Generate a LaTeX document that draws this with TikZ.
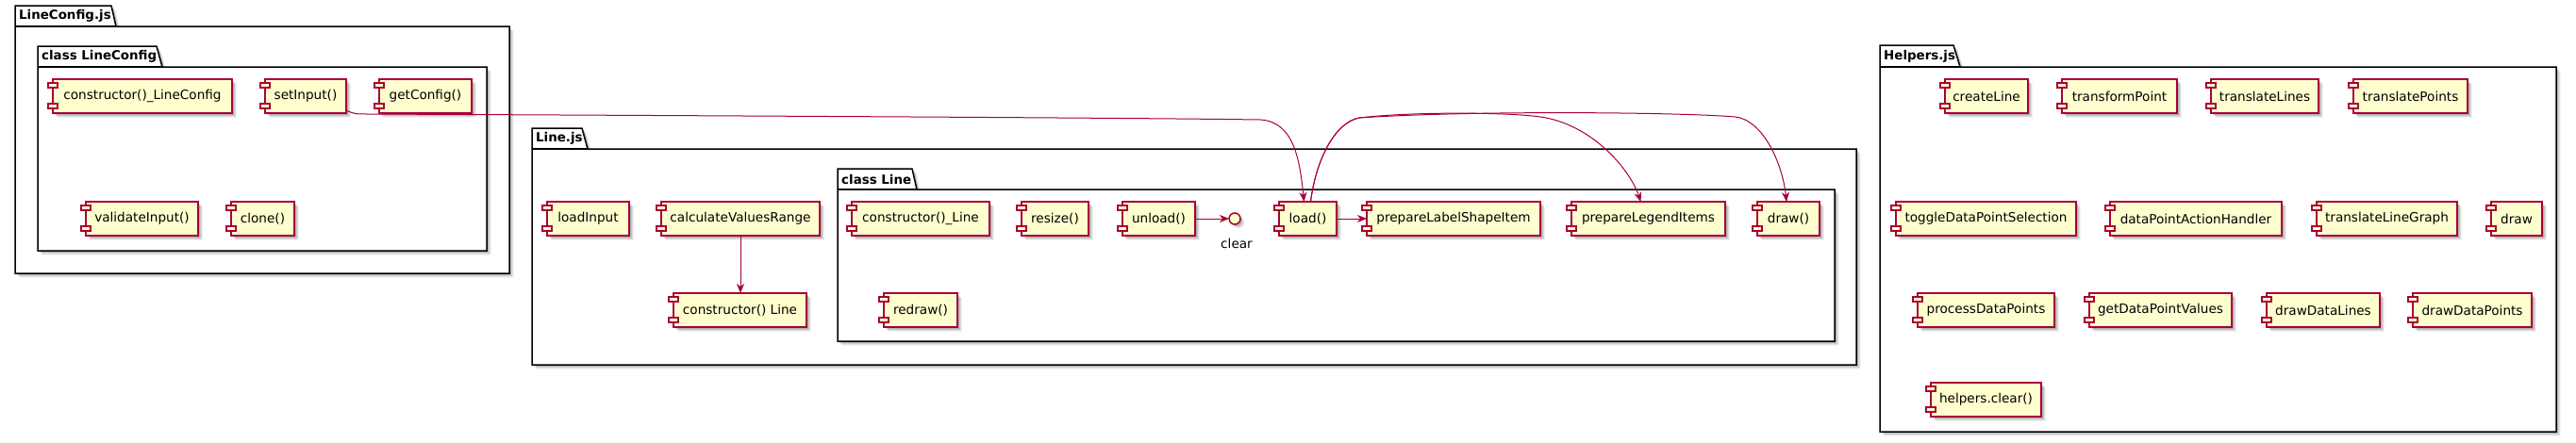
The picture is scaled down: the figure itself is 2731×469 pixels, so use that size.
\documentclass[tikz,border=0pt]{standalone}
\usepackage{fontspec}
\setmainfont{DejaVu Sans}
\usetikzlibrary{arrows.meta,shadows}
\definecolor{pcrim}{HTML}{A80036}
\definecolor{pfill}{HTML}{FEFECE}
\tikzset{
  blurshadow/.style={
    general shadow={fill=black,opacity=.10,shadow xshift=1.5pt,shadow yshift=-1.5pt},
    general shadow={fill=black,opacity=.10,shadow xshift=2.5pt,shadow yshift=-2.5pt},
    general shadow={fill=black,opacity=.08,shadow xshift=3.5pt,shadow yshift=-3.5pt},
    general shadow={fill=black,opacity=.06,shadow xshift=4.5pt,shadow yshift=-4.5pt}},
  compbox/.style={draw=pcrim, fill=pfill, line width=1.5pt, minimum height=36pt,
    inner sep=0pt, outer sep=0pt, anchor=north west,
    font=\fontsize{13.6pt}{16pt}\selectfont, blurshadow},
  compicon/.style={draw=pcrim, fill=pfill, line width=1.5pt},
  pkgframe/.style={draw=black, fill=white, line width=1.5pt, line join=miter, blurshadow},
  pkgline/.style={draw=black, line width=1.5pt},
  pkglabel/.style={anchor=west, inner sep=0pt, font=\bfseries\fontsize{13.4pt}{16pt}\selectfont},
  iface/.style={circle, draw=pcrim, fill=pfill, line width=1.5pt, minimum size=12pt,
    inner sep=0pt, outer sep=0pt, blurshadow},
  plainlabel/.style={inner sep=0pt, font=\fontsize{13.6pt}{16pt}\selectfont},
  arr/.style={draw=pcrim, line width=1pt,
    -{Stealth[length=10pt,width=8pt,inset=3pt]}},
}
% name, x1, x2, ytop, text
\newcommand\pcomp[5]{%
  \node[compbox, minimum width={(#3-#2)*1pt}] (#1) at (#2,#4) {#5};
  \draw[compicon] ([xshift=-5pt,yshift=-4pt]#1.north west) rectangle ++(10pt,-5pt);
  \draw[compicon] ([xshift=-5pt,yshift=10pt]#1.south west) rectangle ++(10pt,-5pt);
}
% name, x1, ytab, xtabtop, xtabbottom, ybody, x2, y2, label
\newcommand\ppkg[9]{%
  \draw[pkgframe] (#2,#3) -- (#4,#3) -- (#5,#6) -- (#7,#6) -- (#7,#8) -- (#2,#8) -- cycle;
  \draw[pkgline] (#2,#6) -- (#5,#6);
  \node[pkglabel] (#1) at (#2+4,{(#3+#6)/2}) {#9};
}
\begin{document}
\begin{tikzpicture}[x=1pt,y=-1pt]
\fill[white] (0,0) rectangle (2731,469);
\useasboundingbox (0,0) rectangle (2731,469);

% ---------- LineConfig.js ----------
\ppkg{pLineConfigjs}{16}{6}{118}{123}{28}{540}{290}{LineConfig.js}
\ppkg{pClassLineConfig}{40}{49}{166}{172}{71}{516}{266}{class LineConfig}
\pcomp{ctorLineConfig}{56}{246}{84}{constructor()\_LineConfig}
\pcomp{setInput}{281}{367}{84}{setInput()}
\pcomp{getConfig}{402}{500}{84}{getConfig()}
\pcomp{validateInput}{91}{210}{214}{validateInput()}
\pcomp{clone}{245}{312}{214}{clone()}

% ---------- Line.js ----------
\ppkg{pLinejs}{564}{136}{617}{623}{158}{1968}{387}{Line.js}
\pcomp{loadInput}{580}{667}{214}{loadInput}
\pcomp{calcRange}{701}{869}{214}{calculateValuesRange}
\pcomp{ctorLine}{714}{855}{311}{constructor() Line}

\ppkg{pClassLine}{888}{179}{967}{972}{201}{1945}{362}{class Line}
\pcomp{ctorUnderLine}{903}{1049}{214}{constructor()\_Line}
\pcomp{resize}{1083}{1154}{214}{resize()}
\pcomp{unload}{1190}{1267}{214}{unload()}
\node[iface] (clear) at (1309,232) {};
\node[plainlabel] (clearlbl) at (1311,258) {clear};
\pcomp{load}{1356}{1417}{214}{load()}
\pcomp{prepLabel}{1449}{1633}{214}{prepareLabelShapeItem}
\pcomp{prepLegend}{1666}{1829}{214}{prepareLegendItems}
\pcomp{lineDraw}{1863}{1929}{214}{draw()}
\pcomp{redraw}{937}{1015}{311}{redraw()}

% ---------- Helpers.js ----------
\ppkg{pHelpersjs}{1993}{48}{2071}{2078}{71}{2710}{458}{Helpers.js}
\pcomp{createLine}{2062}{2150}{84}{createLine}
\pcomp{transformPoint}{2186}{2308}{84}{transformPoint}
\pcomp{translateLines}{2344}{2458}{84}{translateLines}
\pcomp{translatePoints}{2495}{2616}{84}{translatePoints}
\pcomp{toggleSel}{2010}{2201}{214}{toggleDataPointSelection}
\pcomp{actionHandler}{2237}{2419}{214}{dataPointActionHandler}
\pcomp{translateGraph}{2456}{2605}{214}{translateLineGraph}
\pcomp{helpersDraw}{2641}{2695}{214}{draw}
\pcomp{processPoints}{2033}{2178}{311}{processDataPoints}
\pcomp{getValues}{2215}{2366}{311}{getDataPointValues}
\pcomp{drawLines}{2403}{2523}{311}{drawDataLines}
\pcomp{drawPoints}{2558}{2684}{311}{drawDataPoints}
\pcomp{helpersClear}{2047}{2164}{406}{helpers.clear()}

% ---------- connectors ----------
\draw[arr] (calcRange.south) -- (calcRange.south |- ctorLine.north);
\draw[arr] (unload.east) -- (clear.west);
\draw[arr] (load.east) -- (prepLabel.west);
\draw[arr] ([yshift=3pt]setInput.south east) .. controls (376,121) .. (392,121)
  .. controls (800,123) and (1200,125) .. (1336,127)
  .. controls (1372,129) and (1378,170) .. ([xshift=-4pt]load.north);
\draw[arr] ([xshift=3pt]load.north) .. controls (1395,170) and (1415,130) .. (1441,125)
  .. controls (1500,118) and (1610,119) .. (1639,125)
  .. controls (1690,135) and (1728,180) .. ([xshift=-8pt]prepLegend.north);
\draw[arr] ([xshift=3pt]load.north) .. controls (1395,170) and (1415,130) .. (1441,125)
  .. controls (1560,117) and (1780,119) .. (1840,124)
  .. controls (1870,128) and (1890,175) .. ([xshift=-2pt]lineDraw.north);
\end{tikzpicture}
\end{document}
